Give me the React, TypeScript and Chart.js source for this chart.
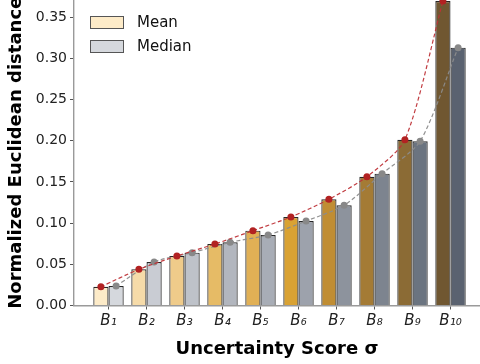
import React, { useEffect, useRef } from "react";
import { Chart, registerables } from "chart.js";

Chart.register(...registerables);

const categories = ["B₁", "B₂", "B₃", "B₄", "B₅", "B₆", "B₇", "B₈", "B₉", "B₁₀"];
const meanValues = [0.0228, 0.0439, 0.0601, 0.0746, 0.0908, 0.1074, 0.1289, 0.1563, 0.2012, 0.3695];
const medianValues = [0.0237, 0.0528, 0.0641, 0.0767, 0.0856, 0.1025, 0.1216, 0.16, 0.1993, 0.3129];
const meanColors = ["#fdebc8", "#f6dba9", "#efcb8a", "#e6bb66", "#e1b055", "#d9a233", "#c08d33", "#a47b35", "#8b6b35", "#705731"];
const medianColors = ["#d5d8dd", "#c9ccd3", "#bec2c9", "#b2b6be", "#a8adb6", "#9da2ac", "#8d939d", "#7d848f", "#6b7480", "#5a6270"];
const yTicks = [0, 0.05, 0.1, 0.15, 0.2, 0.25, 0.3, 0.35];
const yMax = 0.3707;
const xMin = -0.908;
const xMax = 9.776;
const groupOffset = 0.2;

const FONT = "'DejaVu Sans', sans-serif";

export default function App() {
  const canvasRef = useRef<HTMLCanvasElement | null>(null);

  useEffect(() => {
    document.body.style.margin = "0";
    const canvas = canvasRef.current;
    if (!canvas) return;
    Chart.defaults.color = "#000";
    Chart.defaults.font.family = FONT;

    const trend = (values: number[], sign: number, color: string, dot: string) => ({
      type: "line",
      data: values.map((v, i) => ({ x: i + sign * groupOffset, y: v })),
      borderColor: color,
      borderWidth: 1.2,
      borderDash: [4, 2.5],
      tension: 0.25,
      pointRadius: 3.5,
      pointBackgroundColor: dot,
      pointBorderWidth: 0,
      order: 0,
    });

    const bars = (label: string, values: number[], colors: string[]) => ({
      type: "bar",
      label,
      data: values.map((v, i) => ({ x: i, y: v })),
      backgroundColor: colors,
      borderColor: "#262626",
      borderWidth: 1.2,
      categoryPercentage: 0.8,
      barPercentage: 1,
      order: 1,
    });

    const chart = new Chart(canvas, {
      type: "bar",
      data: {
        datasets: [
          trend(meanValues, -1, "rgba(190,50,55,0.95)", "#b22222"),
          trend(medianValues, 1, "rgba(140,140,140,0.95)", "#888888"),
          bars("Mean", meanValues, meanColors),
          bars("Median", medianValues, medianColors),
        ] as any,
      },
      options: {
        responsive: false,
        animation: false,
        devicePixelRatio: 1,
        layout: { padding: 0, autoPadding: false },
        plugins: {
          legend: { display: false },
          tooltip: { enabled: false },
        },
        scales: {
          x: {
            type: "linear",
            offset: false,
            min: xMin,
            max: xMax,
            afterFit: (s: any) => {
              s.height = 58.5;
              s.paddingLeft = 0;
              s.paddingRight = 0;
            },
            afterBuildTicks: (s: any) => {
              s.ticks = categories.map((_, i) => ({ value: i }));
            },
            ticks: {
              autoSkip: false,
              maxRotation: 0,
              padding: 3,
              font: { family: FONT, size: 15, style: "italic" },
              color: "#222",
              callback: (v: any) => categories[Math.round(Number(v))] ?? "",
            },
            grid: {
              offset: false,
              drawOnChartArea: false,
              drawTicks: true,
              tickLength: 4,
              tickColor: "#555",
            },
            border: { display: true, color: "#9a9a9a", width: 1.4 },
            title: {
              display: true,
              text: "Uncertainty Score σ",
              font: { family: FONT, size: 18, weight: "bold" },
              color: "#000",
              padding: { top: 4, bottom: 4 },
            },
          },
          y: {
            type: "linear",
            min: 0,
            max: yMax,
            afterFit: (s: any) => {
              s.width = 74;
              s.paddingTop = 0;
              s.paddingBottom = 0;
            },
            afterBuildTicks: (s: any) => {
              s.ticks = yTicks.map((v) => ({ value: v }));
            },
            ticks: {
              padding: 3,
              font: { family: FONT, size: 14 },
              color: "#222",
              callback: (v: any) => Number(v).toFixed(2),
            },
            grid: {
              drawOnChartArea: false,
              drawTicks: true,
              tickLength: 4,
              tickColor: "#555",
            },
            border: { display: true, color: "#9a9a9a", width: 1.4 },
            title: {
              display: true,
              text: "Normalized Euclidean distance",
              font: { family: FONT, size: 18, weight: "bold" },
              color: "#000",
              padding: { top: 6, bottom: 2 },
            },
          },
        },
      } as any,
    });
    return () => chart.destroy();
  }, []);

  const patch = (bg: string): React.CSSProperties => ({
    position: "absolute",
    left: 90,
    width: 32,
    height: 11,
    background: bg,
    border: "1px solid #555",
  });
  const label: React.CSSProperties = {
    position: "absolute",
    left: 137,
    fontFamily: FONT,
    fontSize: 15,
    lineHeight: "18px",
    color: "#111",
    whiteSpace: "nowrap",
  };

  return (
    <div style={{ position: "relative", width: 480, height: 364, background: "#fff", overflow: "hidden" }}>
      <canvas ref={canvasRef} width={480} height={364} style={{ display: "block" }} />
      <div style={{ ...patch(meanColors[0]), top: 16 }} />
      <div style={{ ...label, top: 13 }}>Mean</div>
      <div style={{ ...patch(medianColors[0]), top: 40 }} />
      <div style={{ ...label, top: 37 }}>Median</div>
    </div>
  );
}
